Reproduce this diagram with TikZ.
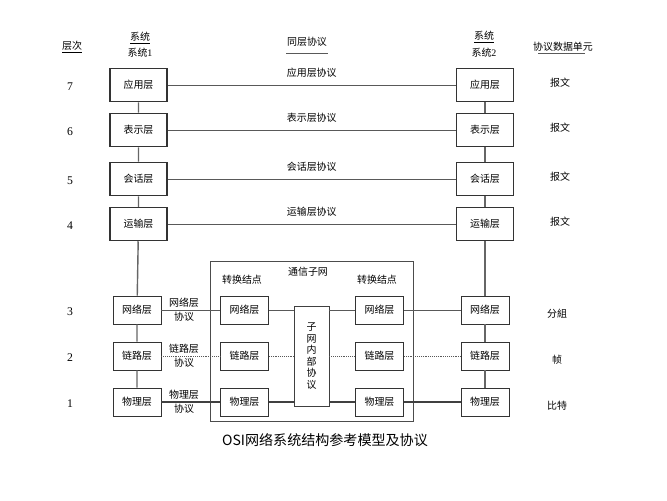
\documentclass[tikz,border=0pt]{standalone}
\usepackage{fontspec}
\setmainfont{Noto Sans CJK SC}
\newfontfamily\numfont{Liberation Serif}
\begin{document}
\begin{tikzpicture}[x=0.03cm,y=-0.03cm,
  every node/.style={font=\fontsize{8.5}{12}\selectfont,text=black},
  layerbox/.style={draw=black!80,line width=1pt,fill=white,minimum width=1.71cm,minimum height=1cm,inner sep=0pt},
  lowbox/.style={layerbox,line width=0.8pt,minimum width=1.44cm,minimum height=0.84cm},
  updown/.style={black!60,line width=1.2pt},
  peer/.style={black!65,line width=0.5pt},
  dotpeer/.style={black!65,line width=0.6pt,densely dotted},
  physpeer/.style={black!75,line width=1pt}]
\useasboundingbox (0,0) rectangle (667,500);
% headers
\node (hdlayer) at (72,47) {\underline{层次}};
\node (hdsysa) at (140,38) {\underline{系统}};
\node (hdsysa1) at (140,53) {系统{\numfont 1}};
\node (hdpeer) at (307,42) {同层协议};
\draw[peer] (286,53) -- (328,53);
\node (hdsysb) at (484,37) {\underline{系统}};
\node (hdsysb2) at (484,53) {系统{\numfont 2}};
\node (hdpdu) at (563,47) {协议数据单元};
\draw[peer] (538,53) -- (585,53);
% layers 7..4
\foreach \k/\y/\t in {7/85/应用,6/130/表示,5/179/会话,4/224/运输}{
  \node[layerbox] (a\k) at (138.5,\y) {\t 层};
  \node[layerbox] (b\k) at (485,\y) {\t 层};
  \draw[peer] (a\k) -- node[above=3pt]{\t 层协议} (b\k);
  \node (num\k) at (70,\y+2) {\numfont\fontsize{10}{12}\selectfont\k};
  \node (pdu\k) at (560,\y-2) {报文};
}
% communication subnet
\node[draw=black!70,line width=0.8pt,minimum width=6.09cm,minimum height=4.8cm] (subnet) at (311.5,341) {};
\node (subname) at (308,272) {通信子网};
\node (nodea) at (242,280) {转换结点};
\node (nodeb) at (377,280) {转换结点};
\node[draw=black!75,line width=0.8pt,fill=white,minimum width=1.05cm,minimum height=3cm,align=center,
  font=\fontsize{8.5}{9.8}\selectfont] (mid) at (311.5,356) {子\\网\\内\\部\\协\\议};
% layers 3..1
\foreach \k/\y/\t/\p/\s in {3/310/网络/分組/peer,2/356/链路/帧/dotpeer,1/402/物理/比特/physpeer}{
  \node[lowbox] (a\k) at (137,\y) {\t 层};
  \node[lowbox] (c\k) at (244.5,\y) {\t 层};
  \node[lowbox] (d\k) at (379.5,\y) {\t 层};
  \node[lowbox] (b\k) at (485,\y) {\t 层};
  \node[align=center] (pl\k) at (184,\y) {\t 层\\协议};
  \draw[\s] (a\k) -- (c\k);
  \draw[\s] (c\k.east) -- (mid.west |- c\k.east);
  \draw[\s] (mid.east |- d\k.west) -- (d\k.west);
  \draw[\s] (d\k) -- (b\k);
  \node (num\k) at (70,\y+2) {\numfont\fontsize{10}{12}\selectfont\k};
  \node (pdu\k) at (557,\y+4) {\p};
}
\draw[updown] (a7) -- (a6) (a6) -- (a5) (a5) -- (a4) (a4) -- (a3) (a3) -- (a2) (a2) -- (a1);
\draw[updown] (b7) -- (b6) (b6) -- (b5) (b5) -- (b4) (b4) -- (b3) (b3) -- (b2) (b2) -- (b1);
\node[font=\fontsize{12}{14}\selectfont] (caption) at (325,440) {OSI网络系统结构参考模型及协议};
\end{tikzpicture}
\end{document}
